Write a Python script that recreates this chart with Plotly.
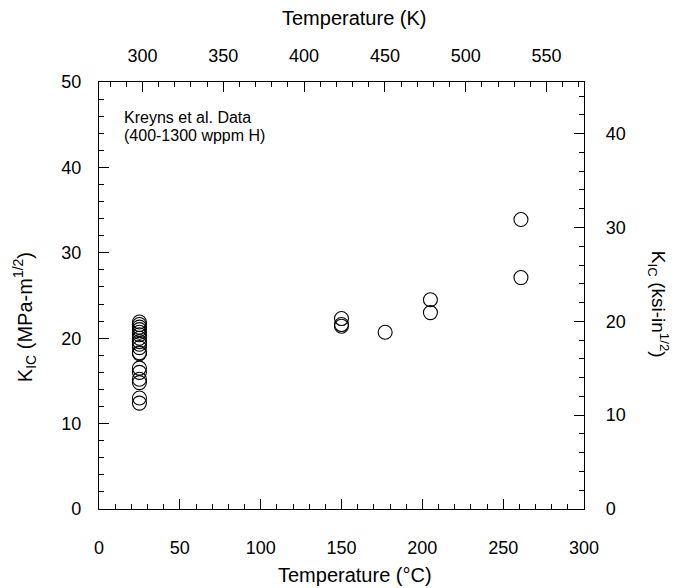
import plotly.graph_objects as go

# Fracture toughness data (Kreyns et al.), temperature in °C, K_IC in MPa-m^1/2
temp_c = [25] * 18 + [150, 150, 150, 177, 205, 205, 261, 261]
kic_mpa = [21.9, 21.6, 21.3, 21.0, 20.7, 20.4, 20.0, 19.6, 19.3, 18.9, 18.3, 18.2,
           16.5, 16.0, 15.2, 14.8, 13.0, 12.4,
           22.3, 21.6, 21.4, 20.7, 24.5, 23.0, 33.9, 27.1]

MPA_PER_KSI = 1.0988
C_TO_K = 273.15

temp_k = [t + C_TO_K for t in temp_c]
kic_ksi = [k / MPA_PER_KSI for k in kic_mpa]

note_lines = ["Kreyns et al. Data", "(400-1300 wppm H)"]

FONT = "Arial, Liberation Sans, sans-serif"
TICK_SIZE = 18
TITLE_SIZE = 20

fig = go.Figure()
fig.add_trace(go.Scatter(
    x=temp_c, y=kic_mpa, mode="markers",
    marker=dict(symbol="circle-open", size=14, color="black", line=dict(width=1.1)),
    showlegend=False, xaxis="x", yaxis="y",
))
# same points on the Kelvin / ksi axes (invisible, keeps the secondary axes drawn)
fig.add_trace(go.Scatter(
    x=temp_k, y=kic_ksi, mode="markers", marker=dict(opacity=0),
    hoverinfo="skip", showlegend=False, xaxis="x2", yaxis="y2",
))

axis_common = dict(
    showline=True, linecolor="black", linewidth=1.2, showgrid=False, zeroline=False,
    ticks="inside", ticklen=10, tickwidth=1, tickcolor="black",
    tickfont=dict(family=FONT, size=TICK_SIZE, color="black"),
)
minor_x = dict(dtick=10, ticklen=5, ticks="inside", tickcolor="black")
minor_y = dict(dtick=2, ticklen=5, ticks="inside", tickcolor="black")

annotations = [
    dict(text="Temperature (°C)", xref="paper", yref="paper", x=0.527, y=-0.155,
         showarrow=False, font=dict(size=TITLE_SIZE), xanchor="center", yanchor="middle"),
    dict(text="Temperature (K)", xref="paper", yref="paper", x=0.527, y=1.15,
         showarrow=False, font=dict(size=TITLE_SIZE), xanchor="center", yanchor="middle"),
    dict(text="K<sub>IC</sub> (MPa-m<sup>1/2</sup>)", xref="paper", yref="paper",
         x=-0.152, y=0.45, textangle=-90, showarrow=False, font=dict(size=TITLE_SIZE),
         xanchor="center", yanchor="middle"),
    dict(text="K<sub>IC</sub> (ksi-in<sup>1/2</sup>)", xref="paper", yref="paper",
         x=1.155, y=0.48, textangle=90, showarrow=False, font=dict(size=19),
         xanchor="center", yanchor="middle"),
]
# two-line note in the upper-left corner of the plot
for i, line in enumerate(note_lines):
    annotations.append(dict(
        text=line, xref="paper", yref="paper", x=0.047, y=0.918 - i * 0.043,
        showarrow=False, font=dict(size=16), align="left",
        xanchor="left", yanchor="middle",
    ))

fig.update_layout(
    width=678, height=588,
    margin=dict(l=99, r=94, t=82, b=79),
    paper_bgcolor="white", plot_bgcolor="white",
    font=dict(family=FONT, color="black"),
    xaxis=dict(range=[0, 300], dtick=50, tick0=0, minor=minor_x,
               ticklabelstandoff=22, **axis_common),
    xaxis2=dict(range=[C_TO_K, 300 + C_TO_K], dtick=50, tick0=300, side="top",
                overlaying="x", anchor="y", minor=minor_x,
                ticklabelstandoff=12, **axis_common),
    yaxis=dict(range=[0, 50], dtick=10, minor=minor_y,
               ticklabelstandoff=13, **axis_common),
    yaxis2=dict(range=[0, 50 / MPA_PER_KSI], dtick=10, side="right",
                overlaying="y", anchor="x", minor=minor_y,
                ticklabelstandoff=17, **axis_common),
    annotations=annotations,
)

fig.write_html("out.html")
